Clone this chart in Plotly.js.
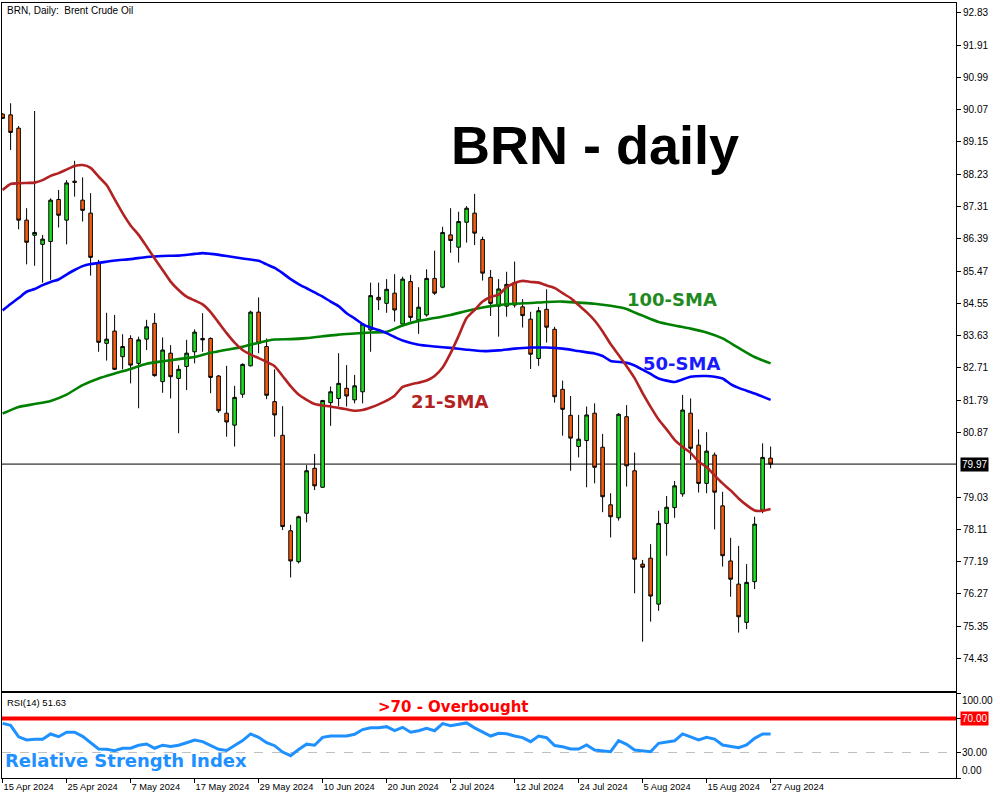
<!DOCTYPE html>
<html>
<head>
<meta charset="utf-8">
<script src="https://cdn.plot.ly/plotly-3.0.1.min.js"></script>
<style>
  html, body { margin: 0; padding: 0; background: #ffffff; }
  #chart { width: 1000px; height: 800px; }
</style>
</head>
<body>
<div id="chart"></div>
<script>
// ---------------- data ----------------
const dates = [
  '2024-04-15','2024-04-16','2024-04-17','2024-04-18','2024-04-19','2024-04-22','2024-04-23','2024-04-24','2024-04-25','2024-04-26',
  '2024-04-29','2024-04-30','2024-05-01','2024-05-02','2024-05-03','2024-05-06','2024-05-07','2024-05-08','2024-05-09','2024-05-10',
  '2024-05-13','2024-05-14','2024-05-15','2024-05-16','2024-05-17','2024-05-20','2024-05-21','2024-05-22','2024-05-23','2024-05-24',
  '2024-05-27','2024-05-28','2024-05-29','2024-05-30','2024-05-31','2024-06-03','2024-06-04','2024-06-05','2024-06-06','2024-06-07',
  '2024-06-10','2024-06-11','2024-06-12','2024-06-13','2024-06-14','2024-06-17','2024-06-18','2024-06-19','2024-06-20','2024-06-21',
  '2024-06-24','2024-06-25','2024-06-26','2024-06-27','2024-06-28','2024-07-01','2024-07-02','2024-07-03','2024-07-04','2024-07-05',
  '2024-07-08','2024-07-09','2024-07-10','2024-07-11','2024-07-12','2024-07-15','2024-07-16','2024-07-17','2024-07-18','2024-07-19',
  '2024-07-22','2024-07-23','2024-07-24','2024-07-25','2024-07-26','2024-07-29','2024-07-30','2024-07-31','2024-08-01','2024-08-02',
  '2024-08-05','2024-08-06','2024-08-07','2024-08-08','2024-08-09','2024-08-12','2024-08-13','2024-08-14','2024-08-15','2024-08-16',
  '2024-08-19','2024-08-20','2024-08-21','2024-08-22','2024-08-23','2024-08-26','2024-08-27'
];

const openP = [
  89.94,89.92,89.54,86.92,86.49,86.23,86.31,87.51,86.92,88.03,
  87.49,87.12,85.72,83.41,83.76,83.03,83.55,82.84,83.53,83.98,
  82.32,83.13,82.41,82.75,83.17,83.55,83.55,82.48,81.42,81.08,
  81.96,82.77,84.30,83.32,81.75,80.79,78.07,77.19,78.57,79.85,
  79.31,81.72,81.84,82.13,81.80,82.03,83.79,84.72,84.55,84.84,
  83.96,85.17,84.08,84.22,85.26,85.01,86.50,86.15,86.86,87.12,
  86.37,85.29,84.47,84.47,85.14,84.45,84.10,82.98,84.38,83.81,
  82.10,81.36,80.47,80.64,81.42,80.45,78.81,78.44,81.32,79.78,
  77.12,77.29,75.98,78.28,78.73,79.12,81.42,80.51,79.42,80.23,
  78.78,77.21,76.55,75.46,76.62,78.66,80.14
];
const highP = [
  89.97,90.25,89.60,87.26,90.03,86.50,87.54,87.78,88.06,88.61,
  88.14,87.69,85.79,84.28,84.22,83.67,83.64,83.60,84.08,84.27,
  83.58,83.36,82.79,83.51,83.81,84.27,83.58,82.51,82.77,82.20,
  82.84,84.34,84.72,83.55,82.67,81.62,78.24,78.50,79.94,80.26,
  81.80,82.18,83.13,82.79,82.51,83.99,85.14,85.14,85.24,85.38,
  85.31,85.36,85.01,85.52,86.05,86.73,87.26,87.16,87.32,87.67,
  86.45,85.50,85.24,85.45,85.74,84.67,84.31,84.45,84.95,83.88,
  82.35,81.91,81.37,81.61,81.70,80.83,79.14,81.42,81.65,80.30,
  77.24,77.69,78.64,79.06,79.49,81.94,81.84,80.96,80.88,80.30,
  79.18,77.87,77.64,77.12,78.47,80.56,80.47
];
const lowP = [
  89.80,88.92,86.66,85.66,85.62,85.14,85.22,86.71,86.23,87.59,
  86.88,85.34,83.17,82.92,82.65,82.67,82.27,81.56,83.22,82.46,
  82.00,81.84,80.85,82.08,82.84,83.17,81.99,81.43,80.75,80.47,
  81.86,82.75,83.13,81.82,80.75,78.09,76.74,77.14,78.31,79.23,
  79.29,81.06,81.61,81.61,81.70,81.70,83.17,84.36,84.28,84.03,
  83.88,84.03,83.68,84.17,84.79,84.98,85.99,85.71,86.28,86.21,
  85.20,84.19,83.60,84.17,84.43,83.86,82.68,82.77,83.43,81.72,
  80.78,79.78,80.16,79.31,79.42,78.60,77.88,78.36,79.33,76.29,
  74.91,75.48,75.79,77.36,78.44,79.04,80.09,79.16,79.14,78.11,
  77.05,76.19,75.17,75.27,76.41,78.57,79.85
];
const closeP = [
  89.82,89.42,86.92,86.29,86.57,86.38,87.49,87.06,87.98,88.00,
  87.20,85.86,83.44,83.53,82.67,83.32,82.79,83.51,83.88,82.49,
  83.22,82.46,82.67,83.13,83.73,83.51,82.44,81.49,81.17,81.87,
  82.81,84.30,83.41,81.93,81.37,78.19,77.21,78.47,79.78,79.35,
  81.78,82.03,82.27,81.91,82.20,83.96,84.77,84.65,84.95,84.36,
  85.24,84.15,84.44,85.26,84.84,86.57,86.34,86.88,87.26,86.55,
  85.41,84.55,84.96,85.09,84.50,84.20,83.10,84.34,83.87,81.89,
  81.53,80.71,80.68,81.37,79.88,79.04,78.47,81.39,79.92,77.26,
  77.03,76.21,78.28,78.74,79.35,81.51,80.42,79.42,80.34,79.17,
  77.36,76.69,75.62,76.60,78.26,80.16,79.97
];

// 21-SMA, read at every bar
const sma21 = [
  87.78,87.95,87.97,87.98,87.99,88.06,88.18,88.26,88.36,88.46,
  88.49,88.41,88.16,87.92,87.52,87.12,86.77,86.50,86.17,85.83,
  85.50,85.17,84.93,84.74,84.63,84.52,84.30,84.00,83.70,83.43,
  83.22,83.09,82.99,82.88,82.76,82.48,82.19,81.95,81.80,81.68,
  81.64,81.61,81.57,81.53,81.49,81.51,81.58,81.67,81.78,81.92,
  82.17,82.24,82.29,82.35,82.48,82.72,83.13,83.62,84.13,84.36,
  84.60,84.73,84.80,85.01,85.13,85.19,85.16,85.14,85.06,84.99,
  84.84,84.70,84.50,84.30,84.06,83.75,83.39,83.08,82.76,82.42,
  81.99,81.60,81.24,80.96,80.66,80.46,80.29,80.04,79.89,79.65,
  79.42,79.22,78.99,78.80,78.65,78.64,78.69
];

// 50-SMA, read at selected bars
const sma50Days = [
  '2024-04-15','2024-04-16','2024-04-17','2024-04-18','2024-04-19','2024-04-22','2024-04-23','2024-04-24','2024-04-25','2024-04-26',
  '2024-04-29','2024-04-30','2024-05-01','2024-05-03','2024-05-07','2024-05-09','2024-05-13','2024-05-15','2024-05-17','2024-05-20',
  '2024-05-21','2024-05-23','2024-05-27','2024-05-29','2024-05-30','2024-05-31','2024-06-03','2024-06-04','2024-06-05','2024-06-06',
  '2024-06-07','2024-06-10','2024-06-11','2024-06-12','2024-06-13','2024-06-14','2024-06-17','2024-06-18','2024-06-19','2024-06-20',
  '2024-06-21','2024-06-24','2024-06-26','2024-06-28','2024-07-02','2024-07-04','2024-07-08','2024-07-10','2024-07-12','2024-07-16',
  '2024-07-18','2024-07-22','2024-07-24','2024-07-26','2024-07-29','2024-07-30','2024-08-01','2024-08-02','2024-08-05','2024-08-06',
  '2024-08-07','2024-08-09','2024-08-13','2024-08-15','2024-08-16','2024-08-19','2024-08-20','2024-08-21','2024-08-23','2024-08-27'
];
const sma50 = [
  84.35,84.53,84.70,84.88,84.96,85.07,85.16,85.23,85.37,85.50,
  85.61,85.67,85.70,85.77,85.81,85.87,85.90,85.91,85.96,85.98,
  85.96,85.90,85.83,85.76,85.66,85.56,85.41,85.24,85.10,84.98,
  84.86,84.74,84.60,84.47,84.27,84.12,83.96,83.86,83.79,83.70,
  83.59,83.49,83.37,83.32,83.28,83.23,83.19,83.21,83.26,83.29,
  83.29,83.26,83.19,83.12,83.05,82.91,82.86,82.78,82.66,82.54,
  82.41,82.31,82.46,82.48,82.46,82.41,82.25,82.14,81.98,81.80
];

// 100-SMA, read at every second bar
const sma100Days = [
  '2024-04-15','2024-04-17','2024-04-19','2024-04-23','2024-04-25','2024-04-29','2024-05-01','2024-05-03','2024-05-07','2024-05-09',
  '2024-05-13','2024-05-15','2024-05-17','2024-05-21','2024-05-23','2024-05-27','2024-05-29','2024-05-31','2024-06-04','2024-06-06',
  '2024-06-10','2024-06-12','2024-06-14','2024-06-18','2024-06-20','2024-06-24','2024-06-26','2024-06-28','2024-07-02','2024-07-04',
  '2024-07-08','2024-07-10','2024-07-12','2024-07-16','2024-07-18','2024-07-22','2024-07-24','2024-07-26','2024-07-30','2024-08-01',
  '2024-08-02','2024-08-05','2024-08-07','2024-08-09','2024-08-13','2024-08-15','2024-08-19','2024-08-21','2024-08-23','2024-08-27'
];
const sma100 = [
  81.41,81.60,81.68,81.77,81.95,82.22,82.41,82.55,82.68,82.83,
  82.90,82.96,83.02,83.14,83.23,83.31,83.43,83.52,83.53,83.56,
  83.61,83.66,83.69,83.72,83.74,83.92,84.05,84.13,84.22,84.33,
  84.43,84.50,84.54,84.56,84.59,84.60,84.57,84.54,84.48,84.39,
  84.29,84.20,84.02,83.92,83.83,83.72,83.55,83.28,83.02,82.84
];

// RSI(14), read at every bar
const rsi14 = [
  64.3,62.0,48.5,44.7,45.5,45.5,51.8,48.6,53.8,53.8,
  49.0,42.0,34.1,33.8,32.0,35.0,35.0,38.5,40.0,35.0,
  38.6,37.0,38.5,41.5,44.7,42.8,38.0,33.8,32.3,38.0,
  44.0,51.8,47.8,41.6,38.0,30.5,26.3,33.5,39.8,38.5,
  47.8,49.4,49.8,49.4,51.5,57.0,59.2,59.2,60.4,55.8,
  59.6,53.8,55.6,58.4,55.6,64.0,61.5,63.5,64.8,59.0,
  54.3,49.4,52.6,52.0,49.5,47.5,42.7,49.4,47.4,38.2,
  36.8,34.1,34.1,38.8,33.0,31.9,31.0,43.9,39.6,33.0,
  31.8,30.9,40.8,42.0,43.8,51.8,48.6,44.7,47.8,45.8,
  38.8,37.6,35.6,38.8,46.7,51.8,51.63
];

const priceTicks = [92.83,91.91,90.99,90.07,89.15,88.23,87.31,86.39,85.47,84.55,83.63,82.71,81.79,80.87,79.03,78.11,77.19,76.27,75.35,74.43];
const tickDates = ['2024-04-15','2024-04-25','2024-05-07','2024-05-17','2024-05-29','2024-06-10','2024-06-20','2024-07-02','2024-07-12','2024-07-24','2024-08-05','2024-08-15','2024-08-27'];
const tickLabels = ['15 Apr 2024','25 Apr 2024','7 May 2024','17 May 2024','29 May 2024','10 Jun 2024','20 Jun 2024','2 Jul 2024','12 Jul 2024','24 Jul 2024','5 Aug 2024','15 Aug 2024','27 Aug 2024'];
const rsiLevels = [100, 70, 30, 0];

// ---------------- layout helpers ----------------
const PL = 2, PR = 956, PT = 3, PB = 778;
const xp = x => (x - PL) / (PR - PL);
const yp = y => (PB - y) / (PB - PT);
const lastClose = closeP[closeP.length - 1];
const lastRsi = rsi14[rsi14.length - 1];
const FONT = 'Liberation Sans, Arial, sans-serif';
const BOLD = 'DejaVu Sans, Verdana, sans-serif';
const xRange = [-0.075, 119.175];

const traces = [
  {
    type: 'candlestick', x: dates, open: openP, high: highP, low: lowP, close: closeP,
    xaxis: 'x', yaxis: 'y',
    increasing: { line: { color: '#000000', width: 1 }, fillcolor: '#22e022' },
    decreasing: { line: { color: '#000000', width: 1 }, fillcolor: '#fa6010' },
    whiskerwidth: 0, hoverinfo: 'skip'
  },
  { type: 'scatter', mode: 'lines', x: sma100Days, y: sma100, xaxis: 'x', yaxis: 'y',
    line: { color: '#008000', width: 2.6, shape: 'spline', smoothing: 0.6 }, hoverinfo: 'skip' },
  { type: 'scatter', mode: 'lines', x: sma50Days, y: sma50, xaxis: 'x', yaxis: 'y',
    line: { color: '#0000ff', width: 2.6, shape: 'spline', smoothing: 0.6 }, hoverinfo: 'skip' },
  { type: 'scatter', mode: 'lines', x: dates, y: sma21, xaxis: 'x', yaxis: 'y',
    line: { color: '#b22222', width: 2.6, shape: 'spline', smoothing: 0.6 }, hoverinfo: 'skip' },
  { type: 'scatter', mode: 'lines', x: dates, y: rsi14, xaxis: 'x2', yaxis: 'y2',
    line: { color: '#1e90ff', width: 3 }, hoverinfo: 'skip' }
];

const annotations = [
  { xref: 'paper', yref: 'paper', x: xp(5), y: yp(3), xanchor: 'left', yanchor: 'top',
    text: 'BRN, Daily:  Brent Crude Oil', showarrow: false, font: { family: FONT, size: 10, color: '#000' } },
  { xref: 'paper', yref: 'paper', x: xp(595), y: yp(145), xanchor: 'center', yanchor: 'middle',
    text: '<b>BRN - daily</b>', showarrow: false, font: { family: FONT, size: 54, color: '#000' } },
  { xref: 'paper', yref: 'paper', x: xp(672), y: yp(300), xanchor: 'center', yanchor: 'middle',
    text: '<b>100-SMA</b>', showarrow: false, font: { family: BOLD, size: 18, color: '#1f8a1f' } },
  { xref: 'paper', yref: 'paper', x: xp(681), y: yp(363), xanchor: 'center', yanchor: 'middle',
    text: '<b>50-SMA</b>', showarrow: false, font: { family: BOLD, size: 18, color: '#1a1aff' } },
  { xref: 'paper', yref: 'paper', x: xp(449), y: yp(401), xanchor: 'center', yanchor: 'middle',
    text: '<b>21-SMA</b>', showarrow: false, font: { family: BOLD, size: 18, color: '#b22222' } },
  { xref: 'paper', yref: 'paper', x: xp(453), y: yp(707), xanchor: 'center', yanchor: 'middle',
    text: '<b>&gt;70 - Overbought</b>', showarrow: false, font: { family: BOLD, size: 15, color: '#ff0000' } },
  { xref: 'paper', yref: 'paper', x: xp(3), y: yp(760), xanchor: 'left', yanchor: 'middle',
    text: '<b>Relative Strength Index</b>', showarrow: false, font: { family: BOLD, size: 18, color: '#1e90ff' } },
  { xref: 'paper', yref: 'paper', x: xp(5), y: yp(695), xanchor: 'left', yanchor: 'top',
    text: 'RSI(14) ' + lastRsi.toFixed(2), showarrow: false, font: { family: FONT, size: 9.5, color: '#000' } },
  // price tag for the last close
  { xref: 'paper', yref: 'y', x: xp(960), y: lastClose, xanchor: 'left', yanchor: 'middle',
    text: lastClose.toFixed(2), showarrow: false, bgcolor: '#000000', borderpad: 1,
    font: { family: FONT, size: 10, color: '#ffffff' } },
  // RSI axis labels
  { xref: 'paper', yref: 'y2', x: xp(960), y: rsiLevels[0], xanchor: 'left', yanchor: 'top',
    text: rsiLevels[0].toFixed(2), showarrow: false, font: { family: FONT, size: 10, color: '#000' } },
  { xref: 'paper', yref: 'y2', x: xp(960), y: rsiLevels[1], xanchor: 'left', yanchor: 'middle',
    text: rsiLevels[1].toFixed(2), showarrow: false, bgcolor: '#ff0000', borderpad: 1,
    font: { family: FONT, size: 10, color: '#ffffff' } },
  { xref: 'paper', yref: 'y2', x: xp(960), y: rsiLevels[2], xanchor: 'left', yanchor: 'middle',
    text: rsiLevels[2].toFixed(2), showarrow: false, font: { family: FONT, size: 10, color: '#000' } },
  { xref: 'paper', yref: 'y2', x: xp(960), y: rsiLevels[3], xanchor: 'left', yanchor: 'bottom',
    text: rsiLevels[3].toFixed(2), showarrow: false, font: { family: FONT, size: 10, color: '#000' } }
];

const shapes = [
  { type: 'line', xref: 'x domain', yref: 'y', x0: 0, x1: 1, y0: lastClose, y1: lastClose,
    line: { color: '#000000', width: 1 }, layer: 'below' },
  { type: 'line', xref: 'x2 domain', yref: 'y2', x0: 0, x1: 1, y0: rsiLevels[1], y1: rsiLevels[1],
    line: { color: '#ff0000', width: 4 }, layer: 'below' },
  { type: 'line', xref: 'x2 domain', yref: 'y2', x0: 0, x1: 1, y0: rsiLevels[2], y1: rsiLevels[2],
    line: { color: '#c0c0c0', width: 1, dash: 'dash' }, layer: 'below' }
];

const mainDomain = [yp(691), 1];
const rsiDomain = [0, yp(693)];

const layout = {
  width: 1000, height: 800,
  margin: { l: PL, r: 1000 - PR, t: PT, b: 800 - PB, pad: 0 },
  paper_bgcolor: '#ffffff', plot_bgcolor: '#ffffff',
  showlegend: false, hovermode: false, dragmode: false,
  boxgap: 0.36,
  font: { family: FONT, size: 10, color: '#000' },
  xaxis: {
    type: 'category', categoryorder: 'array', categoryarray: dates,
    range: xRange, anchor: 'y', domain: [0, 1],
    showticklabels: false, ticks: '', showgrid: false, zeroline: false,
    showline: true, mirror: true, linecolor: '#000', linewidth: 1,
    rangeslider: { visible: false }, fixedrange: true
  },
  yaxis: {
    domain: mainDomain, anchor: 'x', side: 'right', range: [73.505, 93.107],
    tickmode: 'array', tickvals: priceTicks, ticktext: priceTicks.map(v => v.toFixed(2)),
    ticks: 'outside', ticklen: 4, tickcolor: '#000', tickwidth: 1,
    showgrid: false, zeroline: false, showline: true, mirror: true, linecolor: '#000', linewidth: 1,
    tickfont: { family: FONT, size: 10, color: '#000' }, fixedrange: true
  },
  xaxis2: {
    type: 'category', categoryorder: 'array', categoryarray: dates,
    range: xRange, anchor: 'y2', domain: [0, 1],
    tickmode: 'array', tickvals: tickDates, ticktext: tickLabels,
    ticks: 'outside', ticklen: 4, tickcolor: '#000', tickwidth: 1,
    ticklabelposition: 'outside right',
    tickfont: { family: FONT, size: 9.3, color: '#000' },
    showgrid: false, zeroline: false, showline: true, mirror: true, linecolor: '#000', linewidth: 1,
    fixedrange: true
  },
  yaxis2: {
    domain: rsiDomain, anchor: 'x2', side: 'right', range: [0, 100],
    tickmode: 'array', tickvals: rsiLevels, showticklabels: false,
    ticks: 'outside', ticklen: 4, tickcolor: '#000', tickwidth: 1,
    showgrid: false, zeroline: false, showline: true, mirror: true, linecolor: '#000', linewidth: 1,
    fixedrange: true
  },
  annotations: annotations,
  shapes: shapes
};

Plotly.newPlot('chart', traces, layout, { displayModeBar: false, staticPlot: true });
</script>
</body>
</html>
